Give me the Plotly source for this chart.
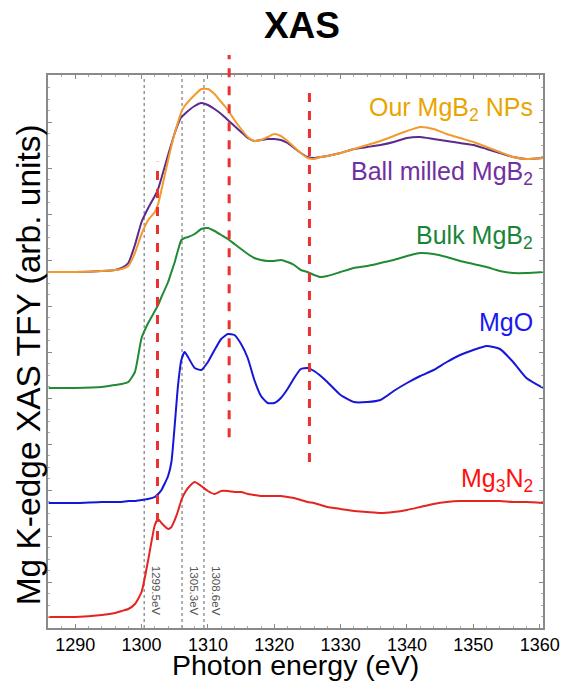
import plotly.graph_objects as go

# ---------------- data ----------------
energy = [1286, 1290, 1294, 1296, 1297, 1298, 1299, 1300, 1301, 1302, 1302.5, 1303, 1304, 1304.5,
          1305, 1305.5, 1306, 1306.5, 1307, 1308, 1309, 1310, 1311, 1312, 1313, 1314, 1315, 1316,
          1317, 1318, 1319, 1320, 1321, 1322, 1323, 1324, 1325, 1326, 1327, 1328, 1330, 1332,
          1334, 1336, 1338, 1340, 1342, 1344, 1346, 1348, 1350, 1352, 1354, 1356, 1358, 1360.5]

our_mgb2_nps = [356, 356, 357, 358, 359, 362, 375, 394, 408, 416, 424, 438, 468, 482,
                495, 506, 516, 522, 526, 533, 539, 539, 534, 526, 518, 508, 499, 491,
                487, 488, 491, 494, 492, 487, 481, 475, 470, 469, 471, 472, 475, 479,
                483, 487, 492, 497, 501, 499, 494, 490, 486, 481, 476, 471, 469, 470]

ball_milled_mgb2 = [356, 356, 357, 358, 360, 365, 383, 406, 420, 432, 439, 450, 473, 484,
                    495, 504, 511, 514, 517, 522, 525, 523, 519, 514, 508, 502, 496, 490,
                    487, 488, 489, 489, 488, 485, 480, 475, 471, 470, 471, 472, 475, 479,
                    481, 483, 486, 490, 491, 489, 487, 485, 483, 479, 475, 471, 469, 470]

bulk_mgb2 = [240, 240, 241, 243, 244, 246, 256, 290, 305, 317, 323, 331, 346, 356,
             366, 378, 388, 390, 391, 394, 399, 400, 397, 393, 389, 384, 379, 374,
             370, 368, 367, 367, 368, 366, 363, 358, 356, 353, 351, 352, 356, 360,
             362, 365, 368, 372, 375, 374, 371, 367, 364, 361, 357, 355, 355, 356]

mgo = [125, 125, 126, 126, 126, 127, 127, 128, 129, 131, 134, 138, 152, 166,
       203, 243, 268, 276, 271, 260, 258, 266, 278, 289, 294, 293, 284, 270,
       248, 232, 225, 225, 230, 239, 250, 259, 260, 257, 252, 246, 233, 226,
       226, 228, 237, 245, 252, 258, 266, 273, 278, 282, 279, 266, 250, 240]

mg3n2 = [11, 11, 13, 15, 17, 19, 24, 36, 68, 103, 109, 105, 99, 101,
         108, 117, 128, 135, 140, 146, 142, 137, 134, 137, 137, 136, 136, 134,
         133, 132, 132, 132, 132, 131, 130, 128, 126, 125, 123, 121, 119, 117,
         116, 115, 116, 118, 121, 124, 126, 127, 127, 127, 127, 126, 126, 125]

series_names = ["Our MgB<sub>2</sub> NPs", "Ball milled MgB<sub>2</sub>", "Bulk MgB<sub>2</sub>",
                "MgO", "Mg<sub>3</sub>N<sub>2</sub>"]

# reference energies
dotted_energies = [1300.4, 1306.1, 1309.4]
dotted_labels = ["1299.5eV", "1305.3eV", "1308.6eV"]
dashed_energies = [1302.4, 1313.2, 1325.3]

x_ticks = [1290, 1300, 1310, 1320, 1330, 1340, 1350, 1360]

# ---------------- figure ----------------
line_colors = ["#F39A2C", "#5B2A8E", "#218A35", "#1616D6", "#E5231F"]
label_colors = ["#E9A400", "#7030A0", "#1B8437", "#1A1AF0", "#FF1010"]
label_y = [519, 455, 391, 306, 148]  # label centres in intensity units

fig = go.Figure()
order = [4, 3, 2, 1, 0]
data = [our_mgb2_nps, ball_milled_mgb2, bulk_mgb2, mgo, mg3n2]
for i in order:
    fig.add_trace(go.Scatter(
        x=energy, y=data[i], mode="lines", name=series_names[i],
        line=dict(color=line_colors[i], width=2, shape="spline", smoothing=0.5),
        showlegend=False, hoverinfo="skip"))

shapes = []
for e in dotted_energies:
    shapes.append(dict(type="line", xref="x", yref="paper", x0=e, x1=e, y0=0, y1=0.995,
                       line=dict(color="#8f8f8f", width=1.4, dash="dot"), layer="below"))

dash_spans = [(0.159, 0.843), (0.345, 1.036), (0.300, 0.978)]
for e, (a, b) in zip(dashed_energies, dash_spans):
    shapes.append(dict(type="line", xref="x", yref="paper", x0=e, x1=e, y0=a, y1=b,
                       line=dict(color="#E8322D", width=3, dash="dash"), layer="above"))

annotations = []
for i in range(5):
    annotations.append(dict(x=1359.3, y=label_y[i], xref="x", yref="y", text=series_names[i],
                            showarrow=False, xanchor="right", yanchor="middle",
                            font=dict(family="Arial", size=25, color=label_colors[i])))

for e, t in zip(dotted_energies, dotted_labels):
    annotations.append(dict(x=e, y=64, xref="x", yref="y", text=t, textangle=90,
                            showarrow=False, xanchor="center", yanchor="top", xshift=12,
                            font=dict(family="Arial", size=11.5, color="#555555")))

annotations.append(dict(x=0, y=0.475, xref="paper", yref="paper",
                        text="Mg K-edge XAS TFY (arb. units)", textangle=-90,
                        showarrow=False, xanchor="center", yanchor="middle", xshift=-20,
                        font=dict(family="Arial", size=33.5, color="#000000")))
annotations.append(dict(x=0.5, y=0, xref="paper", yref="paper",
                        text="Photon energy (eV)", showarrow=False,
                        xanchor="center", yanchor="middle", yshift=-37,
                        font=dict(family="Arial", size=28.5, color="#000000")))

fig.update_layout(
    width=572, height=686,
    margin=dict(l=48, r=29, t=75, b=58),
    paper_bgcolor="white", plot_bgcolor="white",
    title=dict(text="<b>XAS</b>", x=0.513, xref="paper", xanchor="center",
               y=1 - 25 / 686, yanchor="middle",
               font=dict(family="Arial", size=37, color="#000000")),
    shapes=shapes, annotations=annotations,
    xaxis=dict(range=[1285.9, 1360.5], tickvals=x_ticks, ticks="inside", ticklen=4,
               tickcolor="#888888", showgrid=False, zeroline=False,
               showline=True, linecolor="#8a8a8a", linewidth=1.5, mirror="allticks",
               tickfont=dict(family="Arial", size=18, color="#000000"),
               minor=dict(dtick=2, ticks="inside", ticklen=2, tickcolor="#aaaaaa")),
    yaxis=dict(range=[0, 553], dtick=46, tick0=0, ticks="inside", ticklen=4,
               tickcolor="#888888", showticklabels=False, showgrid=False, zeroline=False,
               showline=True, linecolor="#8a8a8a", linewidth=1.5, mirror="allticks",
               minor=dict(dtick=11.5, ticks="inside", ticklen=2, tickcolor="#aaaaaa")),
)

fig.write_html("out.html", config={"displayModeBar": False},
               post_script="document.body.style.margin='0px';document.body.style.overflow='hidden';")
